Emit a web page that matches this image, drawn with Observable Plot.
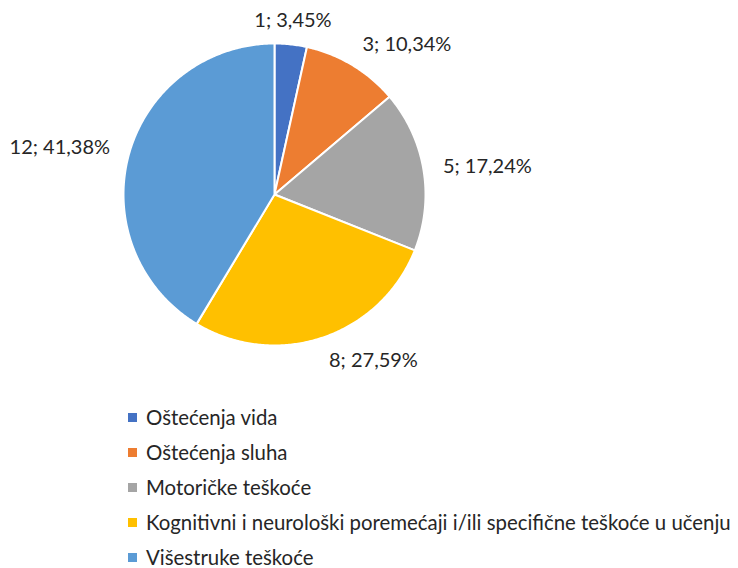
<!DOCTYPE html>
<html>
<head>
<meta charset="utf-8">
<script src="https://cdn.jsdelivr.net/npm/d3@7"></script>
<script src="https://cdn.jsdelivr.net/npm/@observablehq/plot@0.6"></script>
<style>
  html, body { margin: 0; padding: 0; background: #fff; }
  #chart { width: 738px; height: 568px; position: relative; overflow: hidden; font-family: Lato, "Open Sans", sans-serif; color: #262626; }
  .legend .row { position: absolute; left: 128px; height: 20px; line-height: 20px; display: flex; align-items: center; font-size: 20.4px; white-space: nowrap; }
  .legend .sw { width: 9px; height: 9px; margin-right: 9px; flex: none; }
</style>
</head>
<body>
<div id="chart"></div>
<script>
const categories = [
  "Oštećenja vida",
  "Oštećenja sluha",
  "Motoričke teškoće",
  "Kognitivni i neurološki poremećaji i/ili specifične teškoće u učenju",
  "Višestruke teškoće"
];
const counts = [1, 3, 5, 8, 12];
const colors = ["#4472C4", "#ED7D31", "#A5A5A5", "#FFC000", "#5B9BD5"];

const W = 738, H = 390;
const R = 151, cx = 274, cy = 194;

const total = d3.sum(counts);
const data = categories.map((c, i) => ({cat: c, value: counts[i]}));
const arcs = d3.pie().value(d => d.value).sort(null)(data);

// sample arc outlines (geometry from pie angles)
const pts = [];
arcs.forEach(a => {
  const n = Math.max(2, Math.ceil((a.endAngle - a.startAngle) / 0.01));
  pts.push({cat: a.data.cat, x: 0, y: 0});
  for (let k = 0; k <= n; k++) {
    const t = a.startAngle + (a.endAngle - a.startAngle) * k / n;
    pts.push({cat: a.data.cat, x: Math.sin(t), y: Math.cos(t)});
  }
  pts.push({cat: a.data.cat, x: 0, y: 0});
});

const labels = arcs.map(a => {
  const m = (a.startAngle + a.endAngle) / 2;
  const s = Math.sin(m);
  const pct = (a.data.value / total * 100).toFixed(2).replace(".", ",");
  return {
    x: 1.13 * s,
    y: 1.16 * Math.cos(m),
    text: `${a.data.value}; ${pct}%`,
    anchor: Math.abs(s) < 0.2 ? "middle" : (s > 0 ? "start" : "end")
  };
});

const textOpts = a => ({
  x: "x", y: "y", text: "text",
  textAnchor: a, fontSize: 20, fill: "#262626",
  fontFamily: "Lato, 'Open Sans', sans-serif"
});

const chart = Plot.plot({
  width: W, height: H,
  margin: 0,
  axis: null,
  x: {domain: [-cx / R, (W - cx) / R]},
  y: {domain: [-(H - cy) / R, cy / R]},
  color: {domain: categories, range: colors},
  marks: [
    Plot.line(pts, {x: "x", y: "y", z: "cat", fill: "cat", stroke: "white", strokeWidth: 2, strokeLinejoin: "round"}),
    Plot.text(labels.filter(d => d.anchor === "start"), textOpts("start")),
    Plot.text(labels.filter(d => d.anchor === "end"), textOpts("end")),
    Plot.text(labels.filter(d => d.anchor === "middle"), textOpts("middle"))
  ]
});

const root = document.getElementById("chart");
root.appendChild(chart);
chart.style.position = "absolute";
chart.style.left = "0";
chart.style.top = "0";

const legend = document.createElement("div");
legend.className = "legend";
categories.forEach((c, i) => {
  const row = document.createElement("div");
  row.className = "row";
  row.style.top = (417 + i * 35 - 10) + "px";
  const sw = document.createElement("span");
  sw.className = "sw";
  sw.style.background = colors[i];
  const tx = document.createElement("span");
  tx.textContent = c;
  row.appendChild(sw);
  row.appendChild(tx);
  legend.appendChild(row);
});
root.appendChild(legend);
</script>
</body>
</html>
